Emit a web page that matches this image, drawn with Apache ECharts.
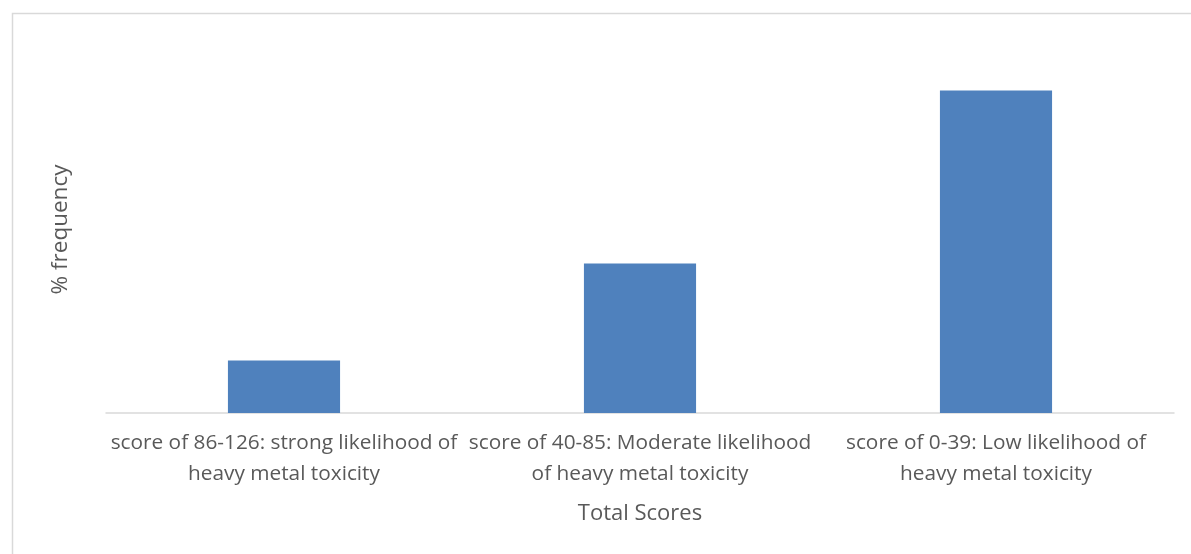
<!DOCTYPE html>
<html>
<head>
<meta charset="utf-8">
<title>Total Scores</title>
<script src="https://cdn.jsdelivr.net/npm/echarts@6/dist/echarts.min.js"></script>
<style>
  html, body { margin: 0; padding: 0; background: #ffffff; }
  #chart { width: 1191px; height: 554px; }
</style>
</head>
<body>
<div id="chart"></div>
<script>
// Score bands (category axis)
const categories = [
  'score of 86-126: strong likelihood of\nheavy metal toxicity',
  'score of 40-85: Moderate likelihood\nof heavy metal toxicity',
  'score of 0-39: Low likelihood of\nheavy metal toxicity'
];
// Percentage of respondents in each band
const frequency = [10, 28.5, 61.5];

const textColor = '#595959';
const fontFamily = '"Open Sans", "Noto Sans", sans-serif';

const chart = echarts.init(document.getElementById('chart'), null, { renderer: 'canvas' });

chart.setOption({
  animation: false,
  backgroundColor: '#ffffff',
  graphic: [{
    type: 'rect',
    left: 10,
    top: 11,
    shape: { width: 1200, height: 600 },
    style: { fill: 'none', stroke: '#d9d9d9', lineWidth: 1.5 },
    silent: true,
    z: -10
  }],
  grid: { left: 106, right: 17, top: 46, bottom: 141, containLabel: false },
  xAxis: {
    type: 'category',
    data: categories,
    name: 'Total Scores',
    nameLocation: 'middle',
    nameGap: 90,
    nameTextStyle: { color: textColor, fontSize: 22, fontFamily: fontFamily },
    axisLine: { show: true, lineStyle: { color: '#d9d9d9', width: 1.5 } },
    axisTick: { show: false },
    axisLabel: {
      interval: 0,
      margin: 15,
      color: textColor,
      fontSize: 20.8,
      lineHeight: 31,
      fontFamily: fontFamily
    }
  },
  yAxis: {
    type: 'value',
    min: 0,
    max: 70,
    name: '% frequency',
    nameLocation: 'middle',
    nameGap: 34,
    nameRotate: 90,
    nameTextStyle: { color: textColor, fontSize: 22.5, fontFamily: fontFamily },
    axisLine: { show: false },
    axisTick: { show: false },
    axisLabel: { show: false },
    splitLine: { show: false }
  },
  series: [{
    type: 'bar',
    data: frequency,
    barCategoryGap: '68.5%',
    itemStyle: { color: '#4f81bd' }
  }]
});
</script>
</body>
</html>
